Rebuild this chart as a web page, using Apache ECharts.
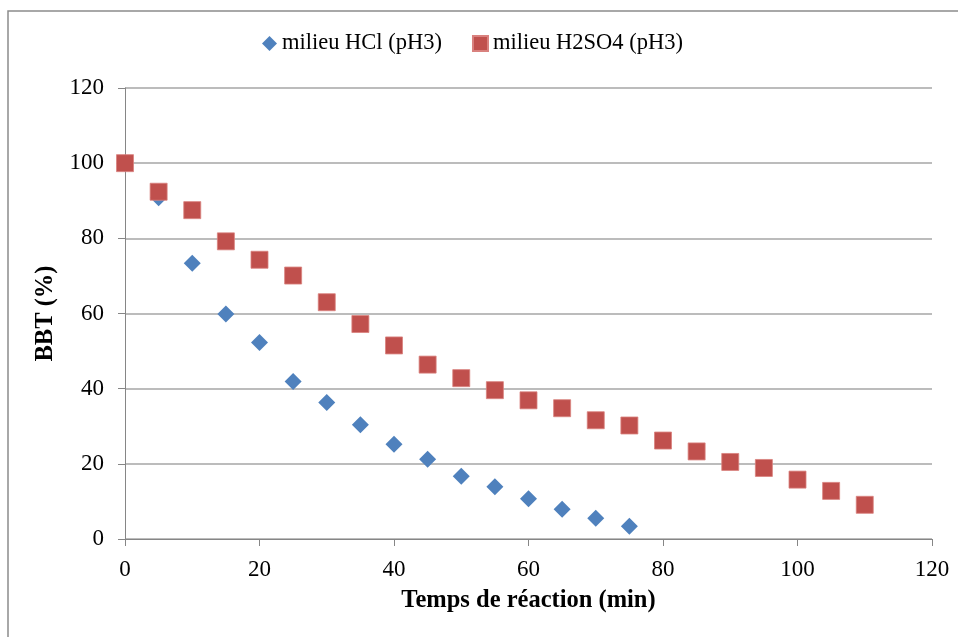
<!DOCTYPE html>
<html>
<head>
<meta charset="utf-8">
<script src="https://cdn.jsdelivr.net/npm/echarts@6/dist/echarts.min.js"></script>
<style>
  html, body { margin: 0; padding: 0; background: #ffffff; }
  #chart { width: 958px; height: 637px; }
</style>
</head>
<body>
<div id="chart"></div>
<script>
// temps de réaction (min)
var tempsHCl = [0, 5, 10, 15, 20, 25, 30, 35, 40, 45, 50, 55, 60, 65, 70, 75];
var bbtHCl = [100, 90.8, 73.4, 59.9, 52.3, 41.9, 36.3, 30.4, 25.2, 21.2, 16.7, 13.9, 10.7, 7.9, 5.5, 3.4];

var tempsH2SO4 = [0, 5, 10, 15, 20, 25, 30, 35, 40, 45, 50, 55, 60, 65, 70, 75, 80, 85, 90, 95, 100, 105, 110];
var bbtH2SO4 = [100, 92.4, 87.5, 79.2, 74.3, 70.1, 63, 57.2, 51.5, 46.4, 42.8, 39.6, 36.9, 34.8, 31.6, 30.2, 26.2, 23.3, 20.5, 18.9, 15.8, 12.8, 9.1];

var nomsSeries = ['milieu HCl (pH3)', 'milieu H2SO4 (pH3)'];

function paires(xs, ys) {
  var out = [];
  for (var i = 0; i < xs.length; i++) {
    out.push([xs[i], ys[i]]);
  }
  return out;
}

var police = '"Liberation Serif", "Times New Roman", serif';

var chart = echarts.init(document.getElementById('chart'));
var option = {
  backgroundColor: '#ffffff',
  animation: false,
  textStyle: { fontFamily: police },
  // cadre du graphique
  graphic: [{
    type: 'rect',
    shape: { x: 8, y: 11, width: 1000, height: 700 },
    style: { fill: 'none', stroke: '#8c8c8c', lineWidth: 1.5 },
    silent: true
  }],
  legend: {
    top: 27,
    left: 257,
    itemGap: 30,
    itemWidth: 15,
    itemHeight: 15,
    textStyle: { fontFamily: police, fontSize: 22.5, color: '#000000' },
    data: [
      { name: nomsSeries[0], icon: 'diamond' },
      { name: nomsSeries[1], icon: 'rect' }
    ]
  },
  grid: { left: 125, right: 26, top: 88, bottom: 98, containLabel: false },
  xAxis: {
    type: 'value',
    min: 0,
    max: 120,
    interval: 20,
    name: 'Temps de réaction (min)',
    nameLocation: 'middle',
    nameGap: 49,
    nameTextStyle: { fontFamily: police, fontSize: 24.5, fontWeight: 'bold', color: '#000000' },
    axisLine: { show: true, lineStyle: { color: '#868686', width: 1 } },
    axisTick: { show: true, inside: false, length: 7, lineStyle: { color: '#868686' } },
    axisLabel: { fontFamily: police, fontSize: 23, color: '#000000', margin: 19 },
    splitLine: { show: false }
  },
  yAxis: {
    type: 'value',
    min: 0,
    max: 120,
    interval: 20,
    name: 'BBT (%)',
    nameLocation: 'middle',
    nameGap: 63,
    nameRotate: 90,
    nameTextStyle: { fontFamily: police, fontSize: 24.5, fontWeight: 'bold', color: '#000000' },
    axisLine: { show: true, lineStyle: { color: '#868686', width: 1 } },
    axisTick: { show: true, inside: false, length: 7, lineStyle: { color: '#868686' } },
    axisLabel: { fontFamily: police, fontSize: 23, color: '#000000', margin: 21 },
    splitLine: { show: true, lineStyle: { color: '#a6a6a6', width: 1.5 } }
  },
  series: [{
    name: nomsSeries[0],
    type: 'scatter',
    symbol: 'diamond',
    symbolSize: 17,
    itemStyle: { color: '#4f81bd', opacity: 1 },
    data: paires(tempsHCl, bbtHCl),
    z: 2
  }, {
    name: nomsSeries[1],
    type: 'scatter',
    symbol: 'rect',
    symbolSize: 17,
    itemStyle: { color: '#c0504d', borderColor: '#d9817e', borderWidth: 0.8, opacity: 1 },
    data: paires(tempsH2SO4, bbtH2SO4),
    z: 3
  }]
};
chart.setOption(option);
</script>
</body>
</html>
